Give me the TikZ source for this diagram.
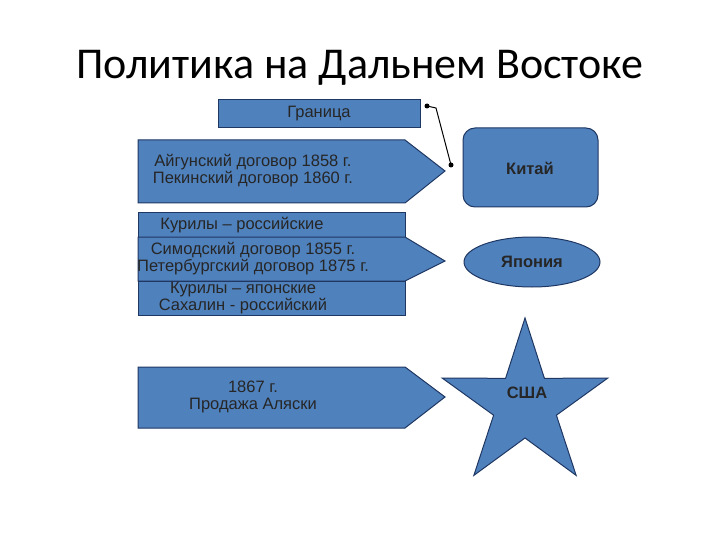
\documentclass[tikz,border=0pt]{standalone}
\usepackage{fontspec}
\setmainfont{Liberation Sans}
\newfontfamily\titlefont{Carlito}
\usetikzlibrary{shapes.geometric,calc}
\definecolor{fillb}{HTML}{4F81BD}
\definecolor{edgeb}{HTML}{1F3763}
\begin{document}
\begin{tikzpicture}[x=1pt,y=-1pt,
  blue/.style={fill=fillb,draw=edgeb,line width=1pt},
  txt/.style={font=\fontsize{16.5}{17}\selectfont,align=center,text=black!85}]
\useasboundingbox (0,0) rectangle (720,540);
\node[font=\titlefont\fontsize{44}{48}\selectfont] (title) at (360,68) {Политика на Дальнем Востоке};
\draw[blue] (218,100) rectangle (420,128);
\node[txt] (gr) at (319,114) {Граница};
\draw[blue] (138,140) -- (405,140) -- (445,171) -- (405,203) -- (138,203) -- cycle;
\node[txt] (a1) at (253,171) {Айгунский договор 1858 г.\\Пекинский договор 1860 г.};
\draw[blue,rounded corners=12pt] (463,128) rectangle (598,207);
\node[txt,font=\bfseries\fontsize{16.5}{17}\selectfont] (china) at (530,168) {Китай};
\draw[blue] (138,213) rectangle (405,237);
\node[txt] (k1) at (242,225) {Курилы – российские};
\draw[blue] (138,237) -- (405,237) -- (445,261) -- (405,281) -- (138,281) -- cycle;
\node[txt] (a2) at (253,259) {Симодский договор 1855 г.\\Петербургский договор 1875 г.};
\draw[blue] (138,281) rectangle (405,315);
\node[txt,font=\fontsize{16.5}{14.5}\selectfont] (k2) at (243,298) {Курилы – японские\\Сахалин - российский};
\node[blue,ellipse,minimum width=136pt,minimum height=50pt,txt,font=\bfseries\fontsize{16.5}{17}\selectfont] (japan) at (532,262) {Япония};
\draw[blue] (138,367) -- (405,367) -- (445,397) -- (405,428) -- (138,428) -- cycle;
\node[txt] (a3) at (253,397) {1867 г.\\Продажа Аляски};
\begin{scope}[shift={(525,405)}]
\draw[blue] (-90:87) -- (-54:33) -- (-18:87) -- (18:33) -- (54:87) -- (90:33) -- (126:87) -- (162:33) -- (198:87) -- (234:33) -- cycle;
\end{scope}
\node[txt,font=\bfseries\fontsize{16.5}{17}\selectfont] (usat) at (527,393) {США};
\coordinate (c1) at (427,106);
\coordinate (c2) at (436,108);
\coordinate (c3) at (451,165);
\draw[line width=1pt] (c1) -- (c2) -- (c3);
\fill (c1) circle (2.5pt) (c3) circle (2.5pt);
\end{tikzpicture}
\end{document}
